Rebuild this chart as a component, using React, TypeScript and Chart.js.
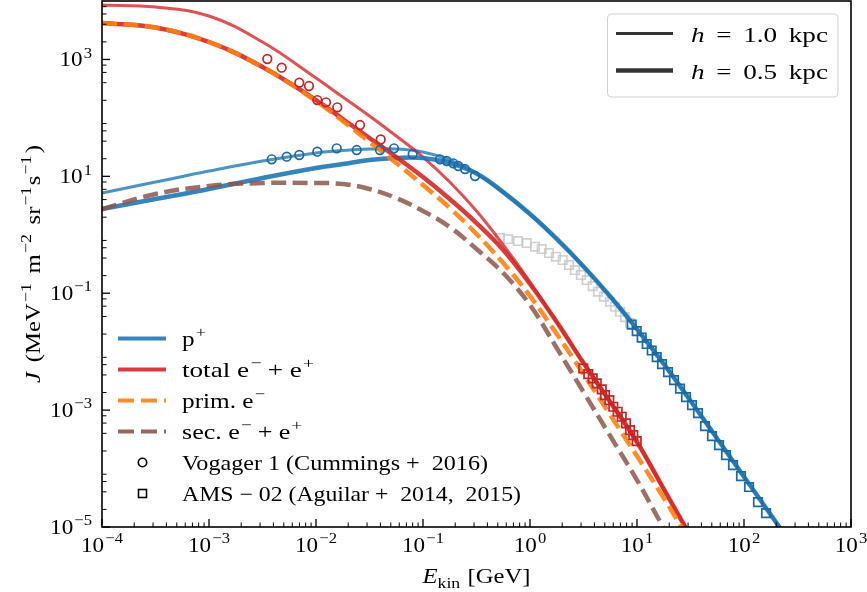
import React, { useEffect, useRef } from "react";
import { Chart, registerables } from "chart.js";
Chart.register(...registerables);

// ---------- data ----------
const E_GRID = [1e-4, 3.162e-4, 1e-3, 3.162e-3, 1e-2, 1.778e-2, 3.162e-2, 5.623e-2, 0.1, 0.1778, 0.3162, 0.5623, 1, 1.778, 3.162, 5.623, 10, 17.78, 31.62, 56.23, 100, 177.8, 316.2];
const E_GRID_E = E_GRID.slice(0, 19);

const TOTAL_E_H10 = [8540, 7900, 5537, 1988, 481.5, 227.7, 107.7, 48.97, 21.4, 7.99, 2.55, 0.668, 0.1554, 0.03214, 0.006389, 0.001374, 2.842e-4, 4.46e-5, 7.0e-6];
const TOTAL_E_H05 = [4200, 3520, 1988, 742.4, 202.2, 95.7, 45.3, 21.4, 9.73, 4.09, 1.589, 0.5484, 0.1437, 0.03214, 0.006389, 0.001374, 2.842e-4, 4.46e-5, 7.0e-6];
const PRIM_E_H05 = [4200, 3520, 1988, 742.4, 194.4, 88.4, 38.66, 16.9, 7.1, 2.87, 1.03, 0.3286, 0.0895, 0.02003, 0.004142, 8.23e-4, 1.637e-4, 3.13e-5, 5.53e-6];
const SEC_E_H05 = [2.759, 4.982, 6.83, 7.68, 7.68, 7.39, 6.07, 4.25, 2.55, 1.357, 0.5705, 0.2216, 0.0628, 0.01154, 0.002038, 3.6e-4, 6.36e-5, 9.59e-6, 1.63e-6];
const PROTON_H10 = [5.18, 7.99, 12.33, 18.29, 25.06, 27.65, 29.34, 29.34, 26.07, 19.02, 11.22, 5.37, 2.265, 0.8494, 0.2874, 0.0881, 0.02439, 0.006189, 0.001446, 3.236e-4, 7.24e-5, 1.62e-5, 3.62e-6];
const PROTON_H05 = [2.759, 4.09, 6.07, 9.36, 13.88, 16.25, 19.02, 20.58, 20.58, 16.9, 11.22, 5.37, 2.265, 0.8494, 0.2874, 0.0881, 0.02439, 0.006189, 0.001446, 3.236e-4, 7.24e-5, 1.62e-5, 3.62e-6];

const VOY_E_ENERGY = [3.506e-3, 4.779e-3, 6.98e-3, 8.6e-3, 0.01028, 0.0124, 0.01581, 0.02578, 0.04024];
const VOY_E_FLUX = [1017, 722, 400, 351, 202, 184.7, 151.7, 75.5, 42.7];
const VOY_P_ENERGY = [3.855e-3, 5.324e-3, 6.98e-3, 0.01028, 0.01561, 0.02401, 0.03963, 0.05358, 0.0801, 0.1442, 0.1665, 0.192, 0.2138, 0.2469, 0.3062];
const VOY_P_FLUX = [19.55, 21.66, 23.16, 26.38, 30.16, 28.2, 28.2, 30.16, 24.09, 19.55, 18.29, 16.7, 15.02, 13.34, 10.13];

const AMS_P_LOW_ENERGY = [0.5243, 0.6229, 0.7726, 0.9316, 1.1135, 1.2861, 1.5049, 1.7498, 2.0214, 2.3147, 2.634, 2.9966, 3.3874, 3.8548, 4.32, 4.9164, 5.5947, 6.2287, 6.9359, 7.7267, 8.6036];
const AMS_P_LOW_FLUX = [0.88, 0.846, 0.782, 0.7225, 0.6246, 0.5705, 0.4873, 0.4212, 0.3698, 0.3037, 0.2494, 0.2048, 0.1682, 0.1327, 0.1061, 0.0871, 0.0715, 0.0587, 0.0482, 0.0391, 0.0309];
const AMS_P_ENERGY = [8.923, 9.936, 11.06, 12.32, 13.72, 15.28, 17.13, 19.49, 22.17, 25.23, 28.7, 32.66, 37.16, 43.2, 50.22, 58.4, 67.89, 78.92, 93.76, 111.4, 135.1, 160.6];
const AMS_P_FLUX = [0.02912, 0.02254, 0.01745, 0.01351, 0.01046, 0.008093, 0.006142, 0.004481, 0.00327, 0.002339, 0.001674, 0.001221, 8.91e-4, 5.34e-4, 3.6e-4, 2.526e-4, 1.703e-4, 1.148e-4, 7.44e-5, 4.83e-5, 2.673e-5, 1.733e-5];
const AMS_E_ENERGY = [3.148, 3.506, 3.855, 4.202, 4.679, 5.022, 5.51, 6.004, 6.601, 7.194, 7.892, 8.604, 9.235, 9.936];
const AMS_E_FLUX = [0.005186, 0.004142, 0.003497, 0.002871, 0.002267, 0.001811, 0.001487, 0.001142, 9.38e-4, 7.7e-4, 5.94e-4, 4.56e-4, 3.745e-4, 2.956e-4];

const X_MIN = 1e-4, X_MAX = 1e3, Y_MIN = 1e-5, Y_MAX = 1e4;
const X_DECADES = [-4, -3, -2, -1, 0, 1, 2, 3];
const Y_LABEL_DECADES = [-5, -3, -1, 1, 3];
const X_MINOR_SUBS = [2, 3, 4, 5, 6, 7, 8, 9];
const Y_MINOR_SUBS = [2, 4, 6, 8];

// ---------- styles ----------
const BLUE = (a: number) => `rgba(31,119,180,${a})`;
const RED = (a: number) => `rgba(214,39,40,${a})`;
const ORANGE = (a: number) => `rgba(255,127,14,${a})`;
const BROWN = (a: number) => `rgba(140,86,75,${a})`;
const FONT_FAMILY = '"Liberation Serif", "Times New Roman", serif';
const FS = 21;
const SX_DEFAULT = 1.1;
const THIN = 3;
const THICK = 4.5;
const DASH = [15, 6.5];

type Part = { t: string; sup?: boolean; sub?: boolean; it?: boolean; gap?: number };

function setFont(ctx: CanvasRenderingContext2D, size: number, it?: boolean) {
  ctx.font = `${it ? "italic " : ""}${size}px ${FONT_FAMILY}`;
}
function partSize(p: Part, size: number) {
  return p.sup || p.sub ? size * 0.72 : size;
}
function partsWidth(ctx: CanvasRenderingContext2D, parts: Part[], size: number) {
  let w = 0;
  for (const p of parts) {
    setFont(ctx, partSize(p, size), p.it);
    w += ctx.measureText(p.t).width + (p.gap || 0);
  }
  return w;
}
function drawParts(
  ctx: CanvasRenderingContext2D,
  parts: Part[],
  x: number,
  y: number,
  size: number,
  align: "left" | "center" | "right",
  target?: number
) {
  const nat = partsWidth(ctx, parts, size);
  const sx = target ? target / nat : SX_DEFAULT;
  const w = nat * sx;
  let cx = align === "center" ? x - w / 2 : align === "right" ? x - w : x;
  ctx.textAlign = "left";
  ctx.textBaseline = "alphabetic";
  for (const p of parts) {
    setFont(ctx, partSize(p, size), p.it);
    cx += (p.gap || 0) * sx;
    const dy = p.sup ? -size * 0.42 : p.sub ? size * 0.24 : 0;
    ctx.save();
    ctx.translate(cx, y + dy);
    ctx.scale(sx, 1);
    ctx.fillText(p.t, 0, 0);
    ctx.restore();
    cx += ctx.measureText(p.t).width * sx;
  }
}
function expLabel(k: number): Part[] {
  return [{ t: "10" }, { t: (k < 0 ? "\u2212" : "") + Math.abs(k), sup: true, gap: 1 }];
}

const decorPlugin = {
  id: "decor",
  afterDatasetsDraw(chart: any) {
    const ctx: CanvasRenderingContext2D = chart.ctx;
    const { left, right, top, bottom } = chart.chartArea;
    const xs = chart.scales.x;
    const ys = chart.scales.y;
    ctx.save();
    ctx.fillStyle = "#000";
    ctx.strokeStyle = "#000";
    const seg = (x1: number, y1: number, x2: number, y2: number, w: number) => {
      ctx.lineWidth = w;
      ctx.beginPath();
      ctx.moveTo(x1, y1);
      ctx.lineTo(x2, y2);
      ctx.stroke();
    };
    for (const k of X_DECADES) {
      const x = xs.getPixelForValue(Math.pow(10, k));
      seg(x, bottom, x, bottom - 8, 1.3);
      if (k < 3) {
        for (const s of X_MINOR_SUBS) {
          const xm = xs.getPixelForValue(s * Math.pow(10, k));
          seg(xm, bottom, xm, bottom - 4.5, 1);
        }
      }
      drawParts(ctx, expLabel(k), x, 552, FS, "center");
    }
    for (let k = -5; k <= 3; k++) {
      for (const s of Y_MINOR_SUBS) {
        const ym = ys.getPixelForValue(s * Math.pow(10, k));
        seg(left, ym, left + 4.5, ym, 1);
      }
    }
    for (const k of Y_LABEL_DECADES) {
      const y = ys.getPixelForValue(Math.pow(10, k));
      seg(left, y, left + 8, y, 1.3);
      drawParts(ctx, expLabel(k), 92, y + 7, FS, "right");
    }
    ctx.lineWidth = 1.6;
    ctx.strokeRect(left, top, right - left, bottom - top);

    // axis titles
    drawParts(ctx, [{ t: "E", it: true }, { t: "kin", sub: true }, { t: " [GeV]", gap: 1 }], (left + right) / 2, 583, FS, "center", 108);
    ctx.save();
    ctx.translate(40, (top + bottom) / 2);
    ctx.rotate(-Math.PI / 2);
    drawParts(
      ctx,
      [
        { t: "J", it: true },
        { t: " (MeV", gap: 3 },
        { t: "\u22121", sup: true, gap: 1 },
        { t: " m", gap: 3 },
        { t: "\u22122", sup: true, gap: 1 },
        { t: " sr", gap: 3 },
        { t: "\u22121", sup: true, gap: 1 },
        { t: "s", gap: 1 },
        { t: "\u22121", sup: true, gap: 1 },
        { t: ")", gap: 2 },
      ],
      0,
      0,
      FS,
      "center",
      238
    );
    ctx.restore();

    // legend top-right
    const bx = 607.5, by = 14, bw = 230.5, bh = 83;
    ctx.beginPath();
    (ctx as any).roundRect(bx, by, bw, bh, 4);
    ctx.fillStyle = "rgba(255,255,255,0.85)";
    ctx.fill();
    ctx.lineWidth = 1;
    ctx.strokeStyle = "#d0d0d0";
    ctx.stroke();
    ctx.strokeStyle = "rgba(30,30,30,0.9)";
    ctx.lineCap = "butt";
    seg(616, 33.5, 673, 33.5, THIN);
    seg(616, 70.5, 673, 70.5, THICK);
    ctx.fillStyle = "#000";
    const hParts = (v: string): Part[] => [{ t: "h", it: true }, { t: "=", gap: 9 }, { t: v, gap: 9 }, { t: "kpc", gap: 9 }];
    drawParts(ctx, hParts("1.0"), 691, 42, FS, "left", 137);
    drawParts(ctx, hParts("0.5"), 691, 79, FS, "left", 137);

    // legend bottom-left
    const lx1 = 118, lx2 = 166, tx = 182;
    const rows = [338.5, 369.5, 400.5, 431.5, 462.5, 493.5];
    const lineRow = (y: number, color: string, dash: number[]) => {
      ctx.strokeStyle = color;
      ctx.setLineDash(dash);
      seg(lx1, y, lx2, y, 4);
      ctx.setLineDash([]);
    };
    lineRow(rows[0], BLUE(0.9), []);
    lineRow(rows[1], RED(0.9), []);
    lineRow(rows[2], ORANGE(0.9), [16, 7]);
    lineRow(rows[3], BROWN(0.9), [16, 7]);
    ctx.strokeStyle = "#000";
    ctx.lineWidth = 1.6;
    ctx.beginPath();
    ctx.arc(142.5, rows[4], 4.2, 0, Math.PI * 2);
    ctx.stroke();
    ctx.strokeRect(138.5, rows[5] - 4, 8, 8);
    ctx.fillStyle = "#000";
    drawParts(ctx, [{ t: "p" }, { t: "+", sup: true, gap: 1 }], tx, rows[0] + 7, FS, "left", 24);
    drawParts(ctx, [{ t: "total e" }, { t: "\u2212", sup: true, gap: 1 }, { t: "+", gap: 5 }, { t: "e", gap: 5 }, { t: "+", sup: true, gap: 1 }], tx, rows[1] + 7, FS, "left", 132);
    drawParts(ctx, [{ t: "prim. e" }, { t: "\u2212", sup: true, gap: 1 }], tx, rows[2] + 7, FS, "left", 83);
    drawParts(ctx, [{ t: "sec. e" }, { t: "\u2212", sup: true, gap: 1 }, { t: "+", gap: 5 }, { t: "e", gap: 5 }, { t: "+", sup: true, gap: 1 }], tx, rows[3] + 7, FS, "left", 120);
    drawParts(ctx, [{ t: "Vogager 1 (Cummings +  2016)" }], tx, rows[4] + 7, FS, "left", 306);
    drawParts(ctx, [{ t: "AMS \u2212 02 (Aguilar +  2014,  2015)" }], tx, rows[5] + 7, FS, "left", 339);
    ctx.restore();
  },
};

function pts(E: number[], J: number[]) {
  return J.map((j, i) => ({ x: E[i], y: j }));
}
function lineDs(label: string, E: number[], J: number[], color: string, width: number, dash: number[], order: number) {
  return {
    type: "line",
    label,
    data: pts(E, J),
    borderColor: color,
    backgroundColor: color,
    borderWidth: width,
    borderDash: dash,
    borderCapStyle: "butt",
    pointRadius: 0,
    fill: false,
    tension: 0.4,
    cubicInterpolationMode: "default",
    clip: 0,
    order,
  };
}
function markerDs(label: string, E: number[], J: number[], color: string, style: string, radius: number, order: number) {
  return {
    type: "line",
    label,
    data: pts(E, J),
    showLine: false,
    pointStyle: style,
    pointRadius: radius,
    pointBorderWidth: 1.7,
    pointBorderColor: color,
    pointBackgroundColor: "rgba(0,0,0,0)",
    clip: 0,
    order,
  };
}

export default function App() {
  const ref = useRef<HTMLCanvasElement>(null);
  useEffect(() => {
    if (!ref.current) return;
    const chart = new Chart(ref.current, {
      type: "line",
      data: {
        datasets: [
          markerDs("AMS-02 p (low E)", AMS_P_LOW_ENERGY, AMS_P_LOW_FLUX, "rgba(200,200,200,0.85)", "rect", 6, 20),
          lineDs("p+ h=1.0", E_GRID, PROTON_H10, BLUE(0.8), THIN, [], 12),
          lineDs("total h=1.0", E_GRID_E, TOTAL_E_H10, RED(0.8), THIN, [], 11),
          lineDs("p+ h=0.5", E_GRID, PROTON_H05, BLUE(0.9), THICK, [], 10),
          lineDs("total h=0.5", E_GRID_E, TOTAL_E_H05, RED(0.9), THICK, [], 9),
          lineDs("prim h=0.5", E_GRID_E, PRIM_E_H05, ORANGE(0.9), THICK, DASH, 8),
          lineDs("sec h=0.5", E_GRID_E, SEC_E_H05, BROWN(0.85), THICK, DASH, 7),
          markerDs("Voyager e", VOY_E_ENERGY, VOY_E_FLUX, "rgb(200,35,38)", "circle", 4.3, 4),
          markerDs("Voyager p", VOY_P_ENERGY, VOY_P_FLUX, "rgb(28,105,165)", "circle", 4.3, 3),
          markerDs("AMS-02 e", AMS_E_ENERGY, AMS_E_FLUX, "rgb(200,35,38)", "rect", 6, 2),
          markerDs("AMS-02 p", AMS_P_ENERGY, AMS_P_FLUX, "rgb(28,105,165)", "rect", 6, 1),
        ] as any,
      },
      options: {
        responsive: false,
        maintainAspectRatio: false,
        devicePixelRatio: 1,
        animation: false,
        events: [],
        layout: { autoPadding: false, padding: { left: 102, right: 16, top: 1, bottom: 65 } },
        plugins: { legend: { display: false }, tooltip: { enabled: false } },
        scales: {
          x: { type: "logarithmic", min: X_MIN, max: X_MAX, display: false },
          y: { type: "logarithmic", min: Y_MIN, max: Y_MAX, display: false },
        },
      } as any,
      plugins: [decorPlugin],
    });
    return () => chart.destroy();
  }, []);
  return (
    <div style={{ position: "absolute", left: 0, top: 0, width: 867, height: 592, background: "#fff" }}>
      <canvas ref={ref} width={867} height={592} style={{ display: "block", width: 867, height: 592 }} />
    </div>
  );
}
